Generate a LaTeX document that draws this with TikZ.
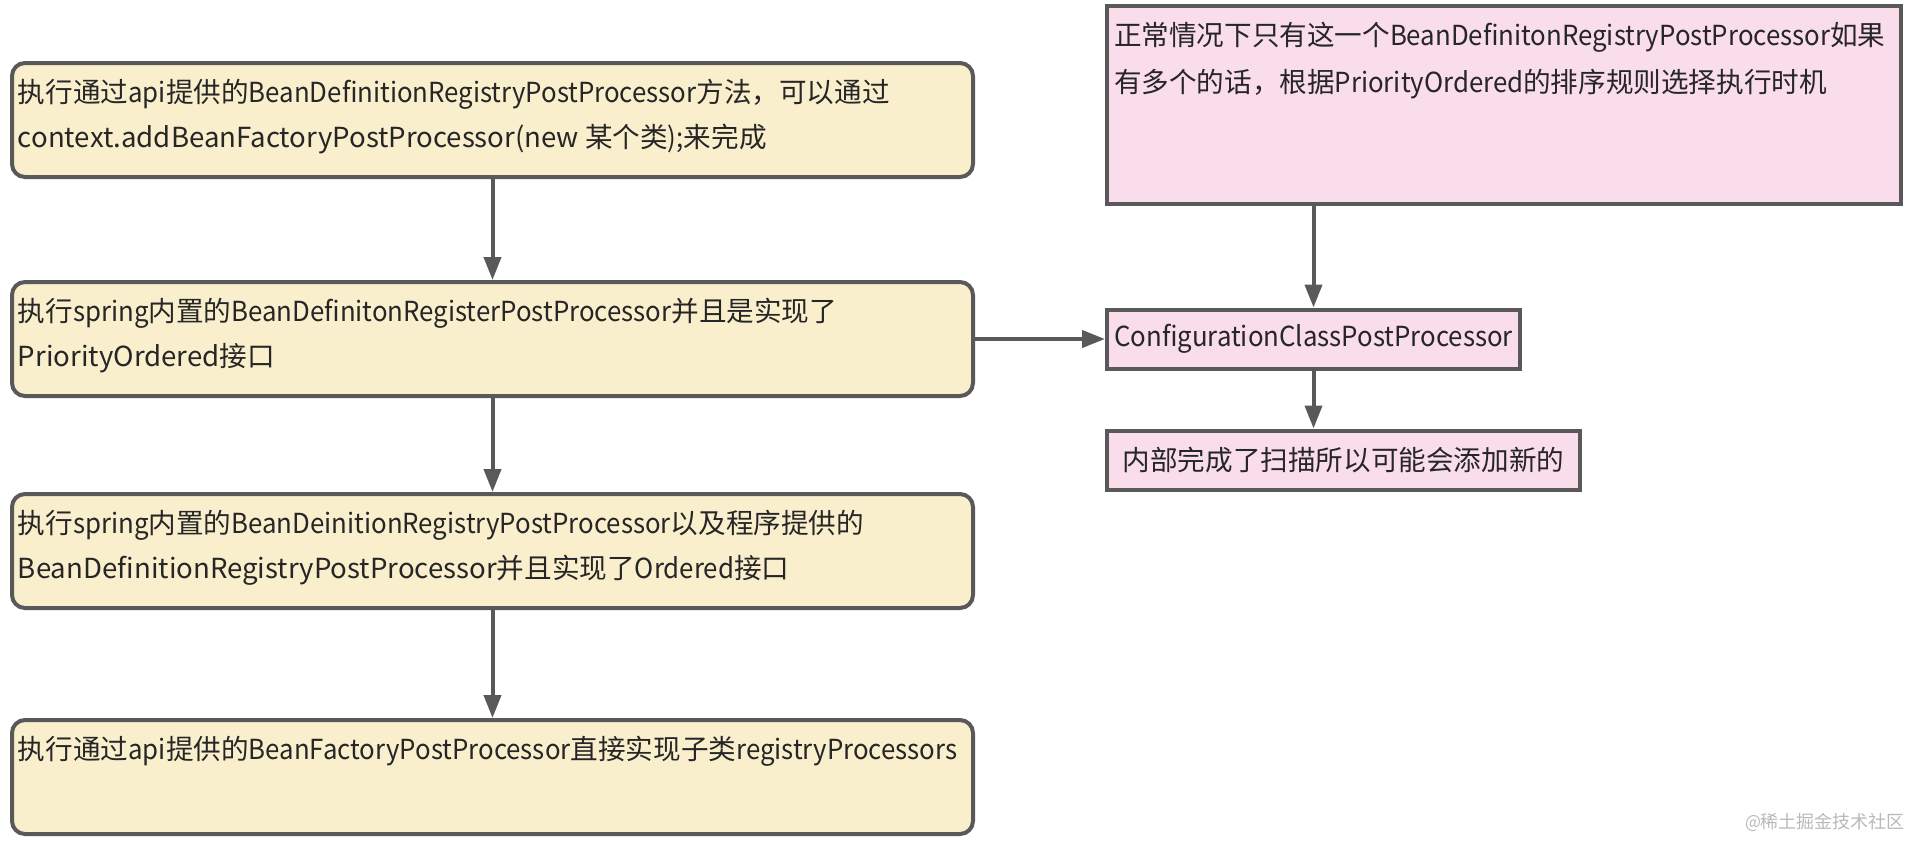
\documentclass[tikz,border=0pt]{standalone}
\usepackage{fontspec}
\setmainfont[FakeStretch=0.935]{Noto Sans CJK SC}
\newfontfamily\cjkfont{Noto Sans CJK SC}
\newfontfamily\latinfont[FakeStretch=0.935]{Noto Sans CJK SC}
\usetikzlibrary{arrows.meta,positioning}

% narrower latin letters, full-width ideographs
\XeTeXinterchartokenstate=1
\newXeTeXintercharclass\hanclass
\newcount\hancode
\hancode="4E00 \loop \XeTeXcharclass\hancode=\hanclass \advance\hancode 1 \ifnum\hancode<"A000 \repeat
\hancode="3000 \loop \XeTeXcharclass\hancode=\hanclass \advance\hancode 1 \ifnum\hancode<"3040 \repeat
\hancode="FF00 \loop \XeTeXcharclass\hancode=\hanclass \advance\hancode 1 \ifnum\hancode<"FFF0 \repeat
\XeTeXinterchartoks 0 \hanclass = {\cjkfont}
\XeTeXinterchartoks 4095 \hanclass = {\cjkfont}
\XeTeXinterchartoks \hanclass 0 = {\latinfont}

\definecolor{stepfill}{HTML}{FAEFCD}
\definecolor{notefill}{HTML}{FADDEA}
\definecolor{edgegray}{HTML}{595959}
\definecolor{inkgray}{HTML}{262626}

% top-aligned text block of fixed height and width
\newcommand{\boxlines}[3]{\parbox[c][#1][t]{#2}{\raggedright\strut #3}}

\begin{document}
\begin{tikzpicture}[
  x=0.5pt, y=-0.5pt,
  every node/.style={text=inkgray, font=\fontsize{13.8pt}{22.5pt}\selectfont},
  stepbox/.style={draw=edgegray, line width=2pt, rounded corners=6.5pt, fill=stepfill, inner xsep=3pt, inner ysep=4pt, minimum width=480.5pt, minimum height=57pt},
  notebox/.style={draw=edgegray, line width=2pt, fill=notefill, inner xsep=3.5pt, inner ysep=4pt},
  tagbox/.style={draw=edgegray, line width=2pt, fill=notefill, minimum height=29.5pt, inner sep=2pt},
  arrow/.style={-{Triangle[length=11.5pt, width=8.5pt]}, line width=2pt, draw=edgegray},
  credit/.style={text=gray!55, font=\fontsize{9pt}{11pt}\selectfont}
]
\useasboundingbox (0,0) rectangle (1919,842);

\node[stepbox, anchor=north west] (api) at (10,61)
  {\boxlines{49pt}{474.5pt}{执行通过api提供的BeanDefinitionRegistryPostProcessor方法，可以通过\\context.addBeanFactoryPostProcessor(new 某个类);来完成}};
\node[stepbox, below=50.5pt of api] (prio)
  {\boxlines{49pt}{474.5pt}{执行spring内置的BeanDefinitonRegisterPostProcessor并且是实现了\\PriorityOrdered接口}};
\node[stepbox, below=47pt of prio] (ordered)
  {\boxlines{49pt}{474.5pt}{执行spring内置的BeanDeinitionRegistryPostProcessor以及程序提供的\\BeanDefinitionRegistryPostProcessor并且实现了Ordered接口}};
\node[stepbox, below=54pt of ordered] (factory)
  {\boxlines{49pt}{474.5pt}{执行通过api提供的BeanFactoryPostProcessor直接实现子类registryProcessors}};

\node[tagbox, minimum width=206.5pt, right=65pt of prio] (config) {ConfigurationClassPostProcessor};
\node[notebox, above=51pt of config.north west, anchor=south west] (note)
  {\boxlines{91pt}{390pt}{\fontsize{13.8pt}{23.5pt}\selectfont 正常情况下只有这一个BeanDefinitonRegistryPostProcessor如果\\有多个的话，根据PriorityOrdered的排序规则选择执行时机}};
\node[tagbox, minimum width=236.5pt, below=29pt of config.south west, anchor=north west] (scan) {内部完成了扫描所以可能会添加新的};

\node[credit, anchor=east] (site) at (1912,822) {@稀土掘金技术社区};

\draw[arrow] (api) -- (prio);
\draw[arrow] (prio) -- (ordered);
\draw[arrow] (ordered) -- (factory);
\draw[arrow] (prio) -- (config);
\draw[arrow] (note.south -| config.north) -- (config.north);
\draw[arrow] (config.south) -- (config.south |- scan.north);
\end{tikzpicture}
\end{document}
